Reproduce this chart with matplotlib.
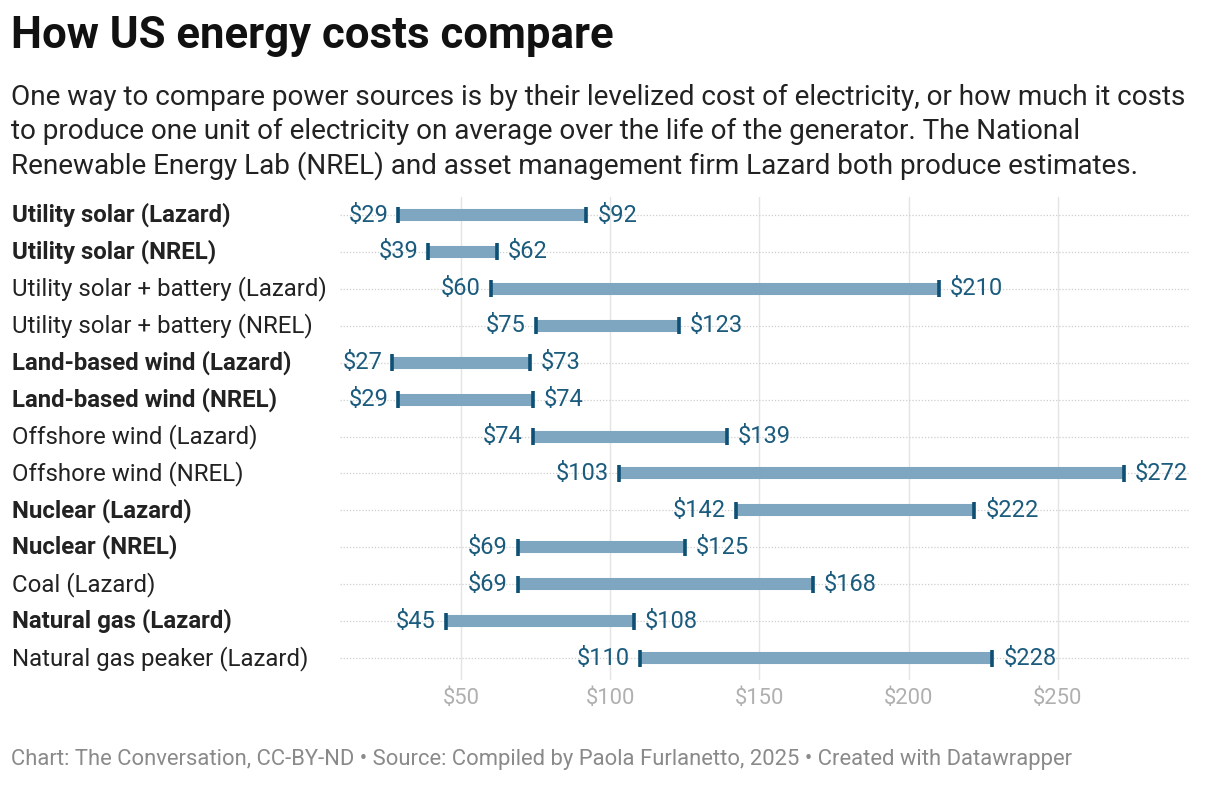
import matplotlib
matplotlib.use("Agg")
import matplotlib.pyplot as plt

plt.rcParams['font.family'] = ['Roboto', 'DejaVu Sans']

categories = [
    "Utility solar (Lazard)",
    "Utility solar (NREL)",
    "Utility solar + battery (Lazard)",
    "Utility solar + battery (NREL)",
    "Land-based wind (Lazard)",
    "Land-based wind (NREL)",
    "Offshore wind (Lazard)",
    "Offshore wind (NREL)",
    "Nuclear (Lazard)",
    "Nuclear (NREL)",
    "Coal (Lazard)",
    "Natural gas (Lazard)",
    "Natural gas peaker (Lazard)",
]
low_values = [29, 39, 60, 75, 27, 29, 74, 103, 142, 69, 69, 45, 110]
high_values = [92, 62, 210, 123, 73, 74, 139, 272, 222, 125, 168, 108, 228]
bold_rows = [True, True, False, False, True, True, False, False, True, True, False, True, False]
tick_values = [50, 100, 150, 200, 250]
tick_labels = ["$50", "$100", "$150", "$200", "$250"]

W, H = 1220, 786
fig = plt.figure(figsize=(W / 100, H / 100), dpi=100)

ax_left, ax_right = 340, 1190
ax_top, ax_bottom = 197, 680
ax = fig.add_axes([ax_left / W, 1 - ax_bottom / H, (ax_right - ax_left) / W, (ax_bottom - ax_top) / H])

px_per = 2.985
x0 = 311.75
ax.set_xlim((ax_left - x0) / px_per, (ax_right - x0) / px_per)
row0, step = 215, 36.92
ax.set_ylim((ax_bottom - row0) / step, (ax_top - row0) / step)

for s in ax.spines.values():
    s.set_visible(False)
ax.set_yticks([])
ax.set_xticks(tick_values)
ax.set_xticklabels(tick_labels, fontsize=15.8, color="#b0b0b0")
ax.tick_params(axis='x', length=0, pad=6)
for t in tick_values:
    ax.axvline(t, color="#e4e4e4", lw=1, zorder=0)

bar_color = "#7fa6c1"
cap_color = "#0e4f74"
lab_color = "#1b5b7d"

for i, (lo, hi) in enumerate(zip(low_values, high_values)):
    ax.axhline(i, color="#cfcfcf", lw=0.9, ls=(0, (1, 1.5)), zorder=1)
    ax.plot([lo, hi], [i, i], color=bar_color, lw=8.7, solid_capstyle='butt', zorder=2)
    for v in (lo, hi):
        ax.plot([v, v], [i - 0.23, i + 0.23], color=cap_color, lw=2.6, solid_capstyle='butt', zorder=3)
    ax.annotate(f"${lo}", (lo, i), xytext=(-10, 0), textcoords='offset pixels',
                ha='right', va='center', fontsize=17, color=lab_color)
    ax.annotate(f"${hi}", (hi, i), xytext=(11, 0), textcoords='offset pixels',
                ha='left', va='center', fontsize=17, color=lab_color)
    fig.text(12 / W, 1 - (row0 + step * i) / H, categories[i], ha='left', va='center',
             fontsize=17.3, color="#222222", fontweight='bold' if bold_rows[i] else 'normal')

fig.text(11 / W, 1 - 36 / H, "How US energy costs compare", fontsize=31.5, fontweight='bold',
         color="#111111", ha='left', va='center')
subtitle = ("One way to compare power sources is by their levelized cost of electricity, or how much it costs\n"
            "to produce one unit of electricity on average over the life of the generator. The National\n"
            "Renewable Energy Lab (NREL) and asset management firm Lazard both produce estimates.")
fig.text(11 / W, 1 - 84 / H, subtitle, fontsize=20.1, color="#222222", ha='left', va='top',
         linespacing=1.31)
fig.text(11 / W, 1 - 760 / H,
         "Chart: The Conversation, CC-BY-ND \u2022 Source: Compiled by Paola Furlanetto, 2025 \u2022 Created with Datawrapper",
         fontsize=15.85, color="#8a8a8a", ha='left', va='center')

fig.savefig("out.png", dpi=100, facecolor="white")
